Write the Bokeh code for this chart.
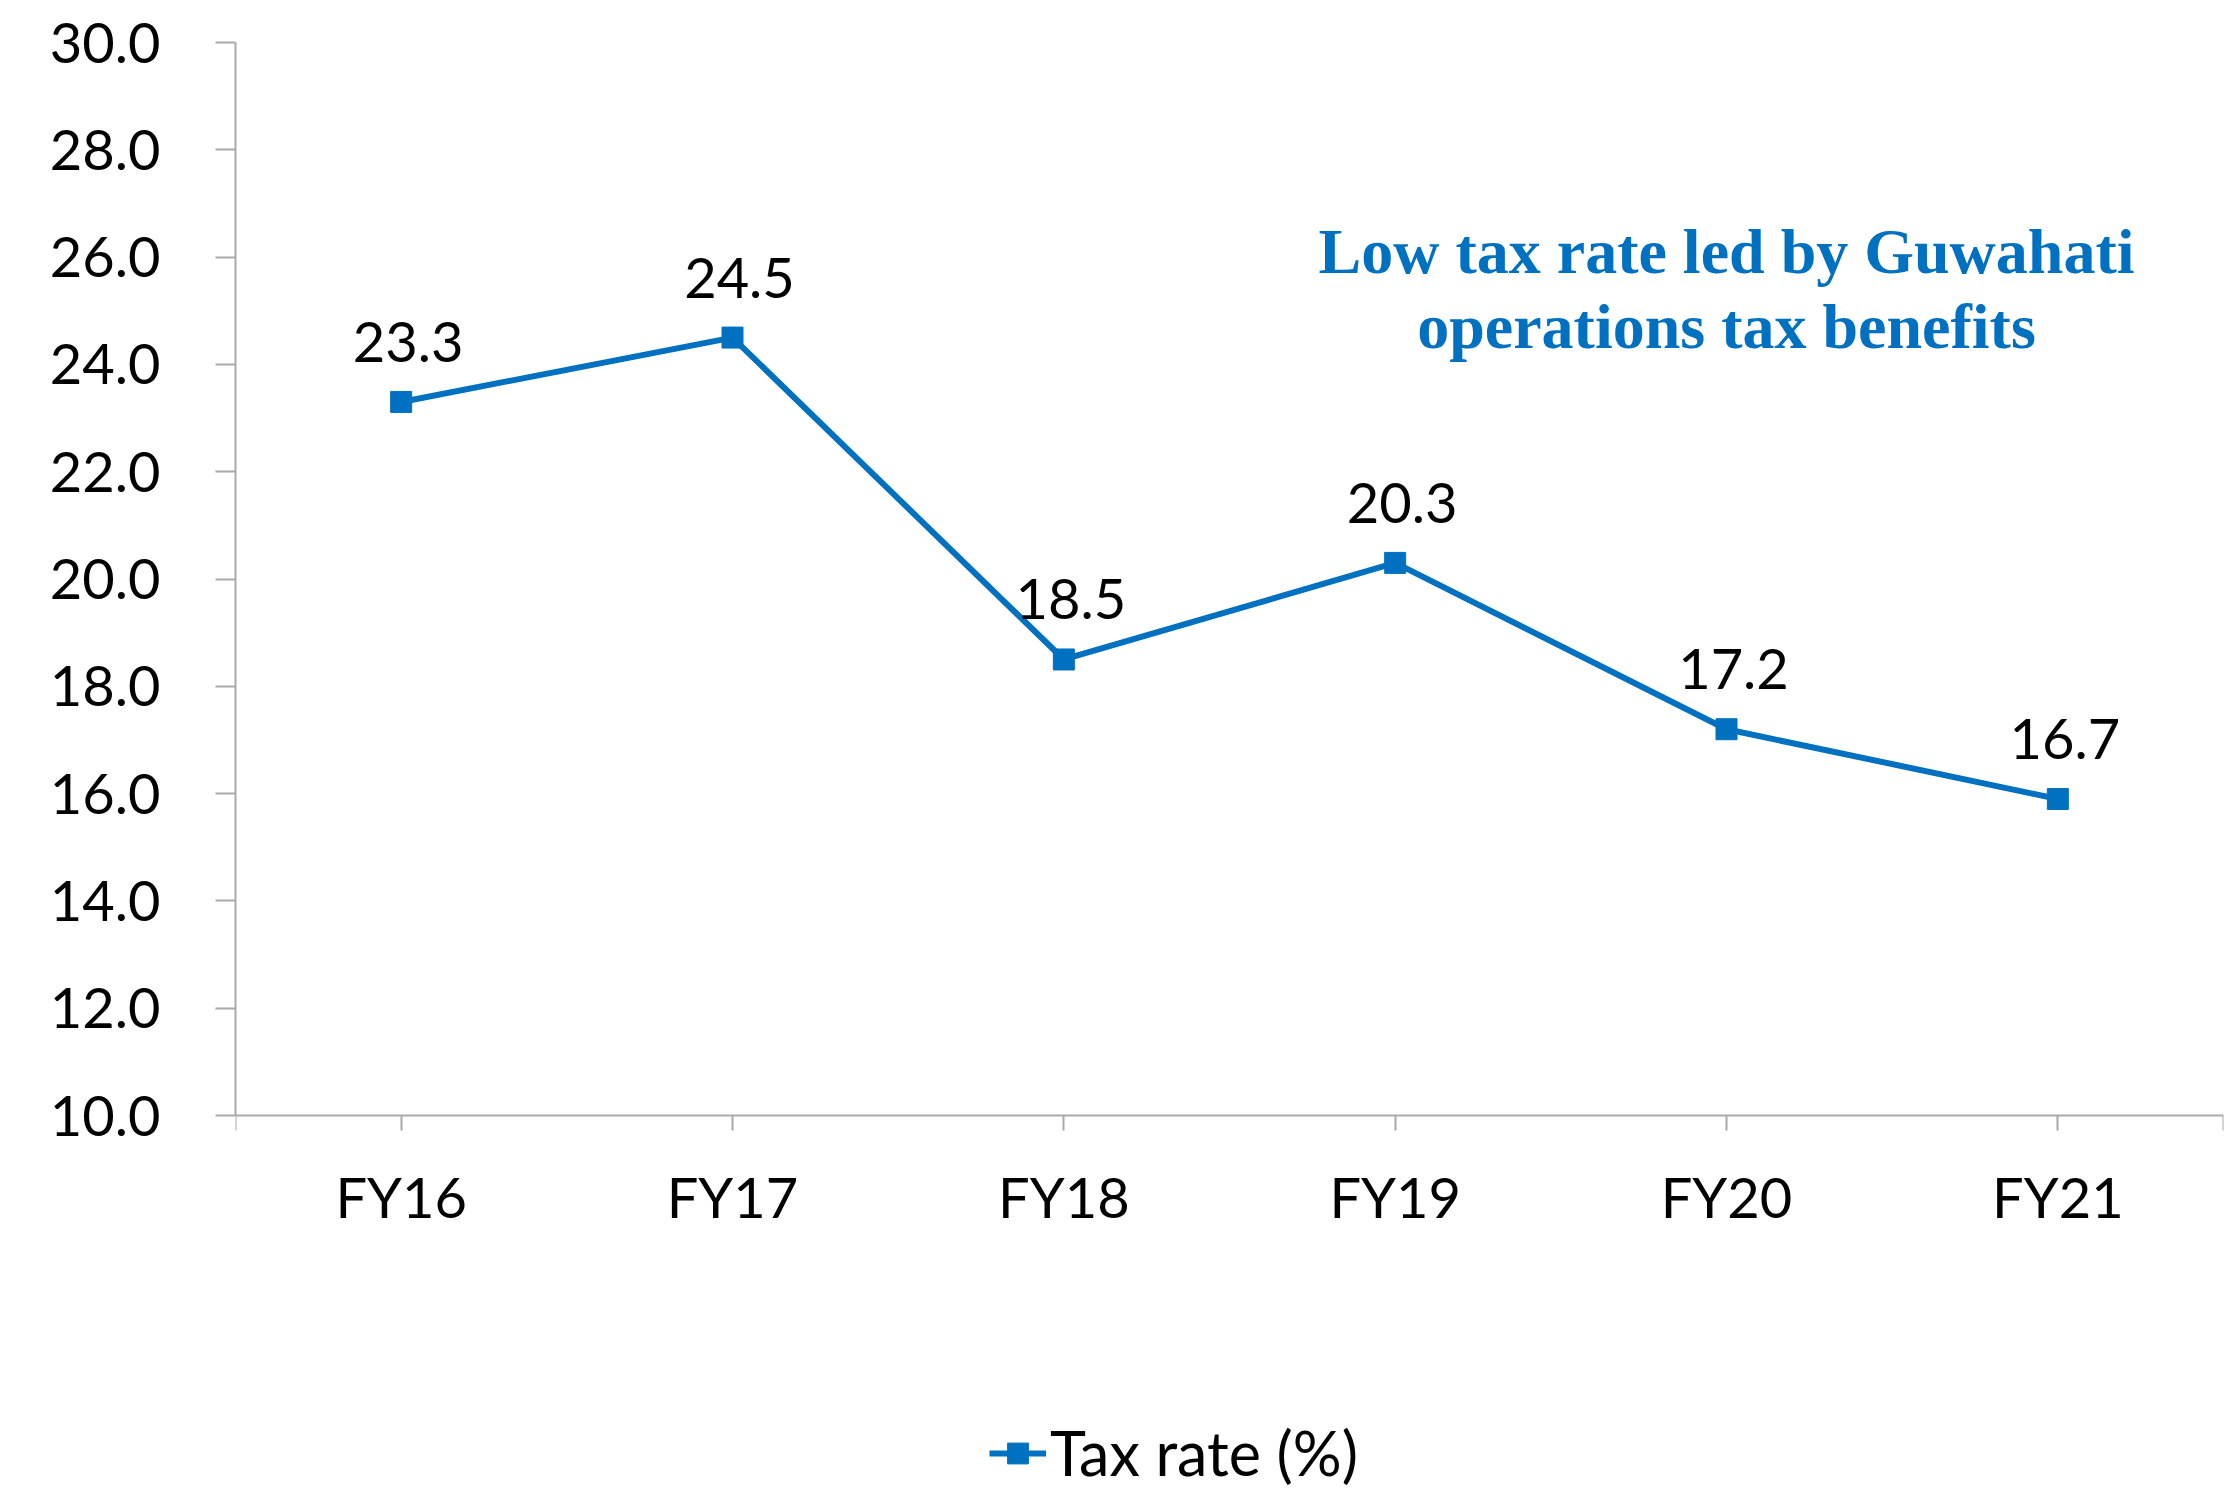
from bokeh.plotting import figure
from bokeh.models import (ColumnDataSource, FixedTicker, PrintfTickFormatter, LabelSet,
                          Label, Legend, LegendItem, Range1d)
from bokeh.core.properties import value
from bokeh.embed import file_html
from bokeh.resources import INLINE

# ---- data ----
categories = ["FY16", "FY17", "FY18", "FY19", "FY20", "FY21"]
tax_rate = [23.3, 24.5, 18.5, 20.3, 17.2, 15.9]          # plotted positions
label_texts = ["23.3", "24.5", "18.5", "20.3", "17.2", "16.7"]  # printed data labels
y_ticks = [10, 12, 14, 16, 18, 20, 22, 24, 26, 28, 30]
series_name = "Tax rate (%)"
title_lines = ["Low tax rate led by Guwahati", "operations tax benefits"]

BLUE = "#0070C0"
GRAY = "#A9A9A9"
FONT = "Lato"
FS = "56px"

# layout geometry (pixels)
W, H = 2229, 1491
TOP, LEFT, RIGHT = 42, 235, 6
AXIS_PX = 1115            # pixel row of the category axis
y_min, y_max = y_ticks[0], y_ticks[-1]
# extend the frame down to the canvas bottom so the legend can sit inside it
y_start = y_max - (y_max - y_min) * (H - TOP) / (AXIS_PX - TOP)

xs = list(range(len(categories)))
src = ColumnDataSource(dict(x=xs, y=tax_rate, lbl=label_texts))

p = figure(width=W, height=H, output_backend="svg", toolbar_location=None,
           x_range=Range1d(-0.5, len(categories) - 0.5), y_range=Range1d(y_start, y_max),
           min_border_left=LEFT, min_border_right=RIGHT, min_border_top=TOP, min_border_bottom=0)
p.outline_line_color = None
p.xgrid.visible = False
p.ygrid.visible = False
p.background_fill_color = "white"
p.border_fill_color = "white"

# y axis
p.yaxis.bounds = (y_min, y_max)
p.yaxis.ticker = FixedTicker(ticks=y_ticks)
p.yaxis.formatter = PrintfTickFormatter(format="%.1f")
p.yaxis.axis_line_color = GRAY
p.yaxis.axis_line_width = 2
p.yaxis.major_tick_line_color = GRAY
p.yaxis.major_tick_line_width = 2
p.yaxis.major_tick_out = 20
p.yaxis.major_tick_in = 0
p.yaxis.minor_tick_line_color = None
p.yaxis.major_label_standoff = 55
p.yaxis.major_label_text_font = FONT
p.yaxis.major_label_text_font_size = FS
p.yaxis.major_label_text_color = "black"

# x axis (drawn at y = 10)
x_tick_vals = [-0.5] + xs + [len(categories) - 0.5]
overrides = {i: c for i, c in zip(xs, categories)}
overrides[-0.5] = ""
overrides[len(categories) - 0.5] = ""
p.xaxis.fixed_location = y_min
p.xaxis.ticker = FixedTicker(ticks=x_tick_vals)
p.xaxis.major_label_overrides = overrides
p.xaxis.axis_line_color = GRAY
p.xaxis.axis_line_width = 2
p.xaxis.major_tick_line_color = GRAY
p.xaxis.major_tick_line_width = 2
p.xaxis.major_tick_out = 15
p.xaxis.major_tick_in = 0
p.xaxis.minor_tick_line_color = None
p.xaxis.major_label_standoff = 32
p.xaxis.major_label_text_font = FONT
p.xaxis.major_label_text_font_size = FS
p.xaxis.major_label_text_color = "black"

# series
ln = p.line("x", "y", source=src, line_color=BLUE, line_width=6)
sc = p.scatter("x", "y", source=src, marker="square", size=21,
               fill_color=BLUE, line_color=BLUE)

labels = LabelSet(x="x", y="y", text="lbl", source=src, x_offset=7, y_offset=40,
                  text_align="center", text_baseline="alphabetic",
                  text_font=value(FONT), text_font_size=value(FS), text_color="black")
p.add_layout(labels)

# annotation text
for txt, yv in zip(title_lines, [26.1, 24.7]):
    p.add_layout(Label(x=4.0, y=yv, text=txt, text_align="center", text_baseline="alphabetic",
                       text_font="Liberation Serif", text_font_style="bold",
                       text_font_size="64px", text_color=BLUE))

legend = Legend(items=[LegendItem(label=series_name, renderers=[ln, sc])],
                location=(754, 2), orientation="horizontal",
                glyph_width=57, glyph_height=52, label_height=52, label_standoff=4,
                padding=0, margin=0, spacing=0, border_line_color=None,
                background_fill_alpha=0,
                label_text_font=FONT, label_text_font_size="61px", label_text_color="black")
p.add_layout(legend, "center")

open("out.html", "w").write(file_html(p, INLINE))
